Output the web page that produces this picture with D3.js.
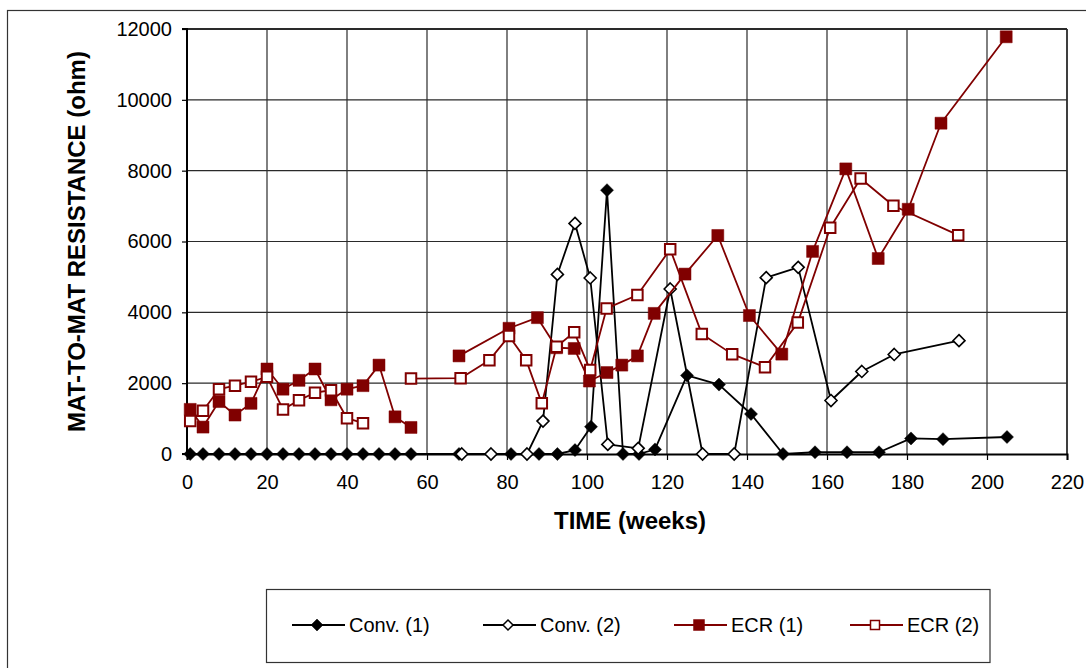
<!DOCTYPE html>
<html><head><meta charset="utf-8">
<script src="https://cdnjs.cloudflare.com/ajax/libs/d3/7.8.5/d3.min.js"></script>
<style>
html,body{margin:0;padding:0;background:#fff;}
svg{display:block;font-family:"Liberation Sans",Arial,sans-serif;}
</style></head>
<body><svg id="c" width="1086" height="668"></svg>
<script>
// ---- data (weeks, ohm); null = missing reading (gap in line)
const conv1Weeks = [0.8,4,8,12,16,20,24,28,32,36,40,44,48,52,56,68,81,88,92.6,97,101,105,109,113,117,125,133,141,149,157,165,173,181,189,205];
const conv1Vals  = [0,0,0,0,0,0,0,0,0,0,0,0,0,0,0,0,0,0,0,110,770,7450,0,0,130,2220,1960,1130,0,50,50,50,440,420,480];

const conv2Weeks = [68.7,76,85,89,92.6,97,100.8,105.2,112.8,120.8,128.9,136.8,144.8,152.8,161,168.7,176.8,193];
const conv2Vals  = [0,0,0,930,5070,6510,4970,270,160,4660,0,0,4980,5270,1510,2330,2810,3200];

const ecr1Weeks = [0.8,4,8,12,16,20,24,28,32,36,40,44,48,52,56,62,68,80.5,87.6,92.4,96.8,100.6,105,108.7,112.6,116.8,124.5,132.7,140.6,148.7,156.4,164.7,172.8,180.3,188.5,204.8];
const ecr1Vals  = [1260,760,1480,1100,1430,2400,1830,2080,2400,1530,1830,1930,2510,1050,750,null,2770,3550,3850,3000,2980,2060,2300,2510,2770,3970,5080,6170,3910,2820,5720,8050,5520,6910,9340,11780];

const ecr2Weeks = [0.8,4,8,12,16,20,24,28,32,36,40,44,50,56,68.4,75.6,80.5,84.8,88.7,92.4,96.8,100.8,104.9,112.6,120.8,128.7,136.3,144.5,152.7,160.8,168.4,176.6,192.8];
const ecr2Vals  = [930,1220,1830,1930,2040,2180,1260,1520,1730,1800,1010,870,null,2130,2140,2650,3330,2650,1430,3030,3440,2370,4110,4490,5780,3390,2820,2450,3710,6390,7780,7010,6180];

const seriesNames = ["Conv. (1)","Conv. (2)","ECR (1)","ECR (2)"];
const xTicks = [0,20,40,60,80,100,120,140,160,180,200,220];
const yTicks = [0,2000,4000,6000,8000,10000,12000];
const xTitle = "TIME (weeks)";
const yTitle = "MAT-TO-MAT RESISTANCE (ohm)";

// ---- chart
const svg = d3.select("#c");
const x = d3.scaleLinear().domain([0,220]).range([187,1067]);
const y = d3.scaleLinear().domain([0,12000]).range([454,29]);
const RED = "#800000";

// outer frame
svg.append("rect").attr("x",7.5).attr("y",10.5).attr("width",1100).attr("height",700)
  .attr("fill","none").attr("stroke","#333").attr("stroke-width",1.2);

// grid
const grid = svg.append("g");
grid.selectAll("line.h").data(yTicks.slice(1)).join("line")
  .attr("x1",x(0)).attr("x2",x(220)).attr("y1",d=>y(d)).attr("y2",d=>y(d))
  .attr("stroke","#2a2a2a").attr("stroke-width",d=>d===12000?1.8:1.2);
grid.selectAll("line.v").data(xTicks.slice(1)).join("line")
  .attr("y1",y(0)).attr("y2",y(12000)).attr("x1",d=>x(d)).attr("x2",d=>x(d))
  .attr("stroke","#2a2a2a").attr("stroke-width",d=>d===220?1.8:1.2);

// axes
const fmt = d3.format("d");
const gy = svg.append("g").attr("transform",`translate(${x(0)},0)`)
  .call(d3.axisLeft(y).tickValues(yTicks).tickFormat(fmt).tickSize(5).tickPadding(10));
const gx = svg.append("g").attr("transform",`translate(0,${y(0)})`)
  .call(d3.axisBottom(x).tickValues(xTicks).tickFormat(fmt).tickSize(6).tickPadding(15));
[gx,gy].forEach(g=>{
  g.select(".domain").attr("stroke","#000").attr("stroke-width",2);
  g.selectAll(".tick line").attr("stroke","#000").attr("stroke-width",1.2);
  g.selectAll(".tick text").attr("fill","#000").style("font-size","20px")
   .style("font-family",'"Liberation Sans",Arial,sans-serif');
});
gy.select(".domain").attr("d",`M-5,${y(12000)}H0V${y(0)}H-5`);

// titles
svg.append("text").attr("x",630).attr("y",529).attr("text-anchor","middle")
  .style("font-size","24px").style("font-weight","bold").text(xTitle);
svg.append("text").attr("transform","translate(85,241.5) rotate(-90)").attr("text-anchor","middle")
  .style("font-size","24px").style("font-weight","bold").text(yTitle);

// markers
const diamond = r => `M0,${-r}L${r},0L0,${r}L${-r},0Z`;
const square = s => `M${-s/2},${-s/2}h${s}v${s}h${-s}Z`;
const styles = [
  {color:"#000", path:diamond(6.5), fill:"#000", sw:0.5, lpath:diamond(6)},
  {color:"#000", path:diamond(6), fill:"#fff", sw:1.6, lpath:diamond(5)},
  {color:RED, path:square(12), fill:RED, sw:0.5, lpath:square(11)},
  {color:RED, path:square(10.5), fill:"#fff", sw:2, lpath:square(9)}
];
const data = [
  conv1Weeks.map((w,i)=>({w,v:conv1Vals[i]})),
  conv2Weeks.map((w,i)=>({w,v:conv2Vals[i]})),
  ecr1Weeks.map((w,i)=>({w,v:ecr1Vals[i]})),
  ecr2Weeks.map((w,i)=>({w,v:ecr2Vals[i]}))
];
const line = d3.line().defined(d=>d.v!==null).x(d=>x(d.w)).y(d=>y(d.v));
data.forEach((ser,si)=>{
  const st = styles[si];
  const g = svg.append("g");
  g.append("path").datum(ser).attr("d",line).attr("fill","none")
    .attr("stroke",st.color).attr("stroke-width",1.8).attr("stroke-linejoin","round");
  g.selectAll("path.m").data(ser.filter(d=>d.v!==null)).join("path").attr("class","m")
    .attr("d",st.path).attr("transform",d=>`translate(${x(d.w)},${y(d.v)})`)
    .attr("fill",st.fill).attr("stroke",st.color).attr("stroke-width",st.sw);
});

// legend
const lg = svg.append("g");
lg.append("rect").attr("x",266.5).attr("y",589.5).attr("width",723.5).attr("height",73)
  .attr("fill","#fff").attr("stroke","#333").attr("stroke-width",1.2);
const legX = [292,483,674,850];
seriesNames.forEach((n,i)=>{
  const st = styles[i];
  const g = lg.append("g").attr("transform",`translate(${legX[i]},625)`);
  g.append("line").attr("x1",0).attr("x2",53).attr("stroke",st.color).attr("stroke-width",1.8);
  g.append("path").attr("d",st.lpath).attr("transform","translate(25,0)")
    .attr("fill",st.fill).attr("stroke",st.color).attr("stroke-width",st.sw===0.5?0.5:1.5);
  g.append("text").attr("x",57).attr("y",7).style("font-size","20px").text(n);
});
</script></body></html>
